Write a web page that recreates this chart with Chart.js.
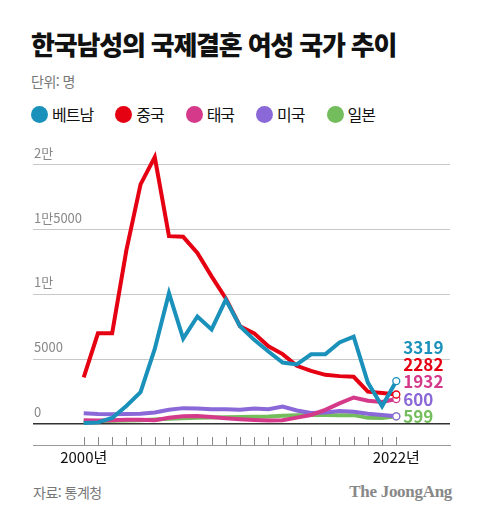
<!DOCTYPE html>
<html lang="ko">
<head>
<meta charset="utf-8">
<script src="https://cdn.jsdelivr.net/npm/chart.js@4.4.1/dist/chart.umd.min.js"></script>
<style>
  body { margin: 0; width: 480px; height: 521px; background: #fff; position: relative; overflow: hidden;
         font-family: "Noto Sans CJK KR", sans-serif; }
  #title { position: absolute; left: 31px; top: 31px; font-size: 26px; line-height: 26px; font-weight: 900;
           letter-spacing: -1.2px; color: #111; white-space: nowrap; }
  #unit { position: absolute; left: 31px; top: 73px; font-size: 14px; line-height: 16px; color: #777; letter-spacing: -0.5px; }
  #legend { position: absolute; left: 31px; top: 105px; height: 18px; display: flex; align-items: center; }
  .item { display: flex; align-items: center; margin-right: 22px; font-size: 16px; letter-spacing: -1px; color: #111; }
  .dot { width: 17px; height: 17px; border-radius: 50%; margin-right: 4px; }
  #wrap { position: absolute; left: 0; top: 130px; width: 480px; height: 345px; }
  #source { position: absolute; left: 33px; top: 484px; font-size: 14px; line-height: 16px; color: #777; letter-spacing: -0.5px; }
  #brand { position: absolute; right: 28px; top: 482px; font-family: "Liberation Serif", serif; font-weight: bold;
           font-size: 17px; line-height: 20px; color: #888; letter-spacing: -0.3px; }
</style>
</head>
<body>
<div id="title">한국남성의 국제결혼 여성 국가 추이</div>
<div id="unit">단위: 명</div>
<div id="legend"></div>
<div id="wrap"><canvas id="chart"></canvas></div>
<div id="source">자료: 통계청</div>
<div id="brand">The JoongAng</div>

<script>
const years = [2000, 2001, 2002, 2003, 2004, 2005, 2006, 2007, 2008, 2009, 2010, 2011,
               2012, 2013, 2014, 2015, 2016, 2017, 2018, 2019, 2020, 2021, 2022];

const countries = ["베트남", "중국", "태국", "미국", "일본"];
const colors = ["#1a91ba", "#e50012", "#d4398a", "#8a68d8", "#74bd5c"];

const vietnam  = [80, 130, 470, 1400, 2460, 5800, 10100, 6600, 8300, 7300, 9600, 7550,
                  6500, 5600, 4750, 4600, 5380, 5380, 6300, 6750, 3200, 1380, 3319];
const china    = [3600, 7000, 7000, 13400, 18500, 20600, 14500, 14450, 13200, 11400, 9700, 7550,
                  7000, 6000, 5400, 4500, 4100, 3800, 3700, 3650, 2500, 2400, 2282];
const thailand = [300, 280, 300, 330, 330, 300, 480, 600, 620, 540, 450, 380,
                  320, 270, 300, 500, 700, 1100, 1600, 2050, 1800, 1700, 1932];
const usa      = [830, 770, 750, 780, 800, 900, 1100, 1230, 1200, 1150, 1150, 1100,
                  1200, 1150, 1350, 1050, 850, 900, 1000, 950, 800, 700, 600];
const japan    = [200, 230, 260, 280, 300, 350, 420, 450, 480, 500, 520, 540,
                  560, 580, 640, 680, 700, 700, 690, 690, 480, 470, 599];

const series = [vietnam, china, thailand, usa, japan];

const yTicks = [0, 5000, 10000, 15000, 20000];
const yTickLabels = ["0", "5000", "1만", "1만5000", "2만"];
const xLabelYears = [2000, 2022];

// 범례
const legend = document.getElementById("legend");
countries.forEach((name, i) => {
  const item = document.createElement("div");
  item.className = "item";
  item.innerHTML = `<span class="dot" style="background:${colors[i]}"></span>${name}`;
  legend.appendChild(item);
});

// 연도 눈금 (축선 위쪽으로)
const yearTicks = {
  id: "yearTicks",
  afterDraw(chart) {
    const { ctx, chartArea, scales: { x } } = chart;
    ctx.save();
    ctx.strokeStyle = "#888";
    ctx.lineWidth = 1;
    ctx.beginPath();
    years.forEach(yr => {
      const px = Math.round(x.getPixelForValue(yr)) + 0.5;
      ctx.moveTo(px, chartArea.bottom);
      ctx.lineTo(px, chartArea.bottom - 8);
    });
    ctx.stroke();
    ctx.restore();
  }
};

// 마지막 값 라벨
const endLabels = {
  id: "endLabels",
  afterDatasetsDraw(chart) {
    const { ctx, scales: { x, y } } = chart;
    const left = x.getPixelForValue(years[years.length - 1]) + 7;
    const top = y.getPixelForValue(6000) + 1;
    ctx.save();
    ctx.font = 'bold 17px "Noto Sans CJK KR", sans-serif';
    ctx.textBaseline = "middle";
    ctx.textAlign = "left";
    series.forEach((data, i) => {
      ctx.fillStyle = colors[i];
      ctx.fillText(String(data[data.length - 1]), left, top + i * 17.3);
    });
    ctx.restore();
  }
};

const lastIdx = years.length - 1;

new Chart(document.getElementById("chart"), {
  type: "line",
  data: {
    datasets: series.map((data, i) => ({
      label: countries[i],
      data: data.map((v, j) => ({ x: years[j], y: v })),
      borderColor: colors[i],
      borderWidth: 4,
      borderJoinStyle: "miter",
      tension: 0,
      pointRadius: ctx => ctx.dataIndex === lastIdx ? 3.5 : 0,
      pointBackgroundColor: "#fff",
      pointBorderColor: colors[i],
      pointBorderWidth: 1.3
    }))
  },
  options: {
    responsive: true,
    maintainAspectRatio: false,
    animation: false,
    layout: { padding: { left: 31, right: 30, top: 20, bottom: 6 } },
    plugins: { legend: { display: false }, tooltip: { enabled: false } },
    scales: {
      x: {
        type: "linear",
        min: 1996.43,
        max: 2025.78,
        afterBuildTicks: scale => { scale.ticks = years.map(v => ({ value: v })); },
        grid: { display: false, drawTicks: false },
        border: { display: true, color: "#999", width: 1 },
        ticks: {
          autoSkip: false,
          maxRotation: 0,
          padding: 3,
          color: "#111",
          font: { family: '"Noto Sans CJK KR", sans-serif', size: 15 },
          callback: v => xLabelYears.includes(v) ? v + "년" : ""
        }
      },
      y: {
        min: -1615,
        max: 21150,
        afterBuildTicks: scale => { scale.ticks = yTicks.map(v => ({ value: v })); },
        grid: {
          drawTicks: false,
          color: ctx => ctx.tick && ctx.tick.value === 0 ? "#333" : "#c8c8c8",
          lineWidth: ctx => ctx.tick && ctx.tick.value === 0 ? 1.5 : 1
        },
        border: { display: false },
        ticks: {
          mirror: true,
          padding: 1,
          labelOffset: -12,
          color: "#888",
          font: { family: '"Noto Sans CJK KR", sans-serif', size: 13 },
          callback: v => yTickLabels[yTicks.indexOf(v)]
        }
      }
    }
  },
  plugins: [yearTicks, endLabels]
});
</script>
</body>
</html>
